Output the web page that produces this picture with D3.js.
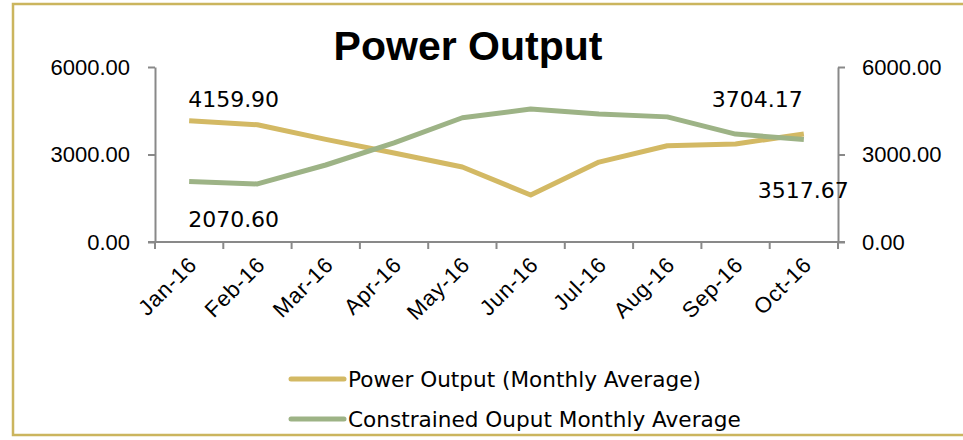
<!DOCTYPE html>
<html lang="en">
<head>
<meta charset="UTF-8">
<title>Power Output</title>
<script src="https://d3js.org/d3.v7.min.js"></script>
<style>
  body { margin: 0; background: #fff; }
  svg { display: block; font-family: "DejaVu Sans", sans-serif; }
  .axis text { font-size: 22px; fill: #000; }
  .axis.x text { letter-spacing: 0.8px; }
  .axis path, .axis line { stroke: #898989; stroke-width: 2; }
  .lbl { font-size: 22px; }
  .legend text { font-size: 21.6px; }
</style>
</head>
<body>
<svg id="chart" width="963" height="440"></svg>
<script>
const months = ["Jan-16","Feb-16","Mar-16","Apr-16","May-16","Jun-16","Jul-16","Aug-16","Sep-16","Oct-16"];
const powerOutput = [4159.90, 4020, 3520, 3050, 2570, 1610, 2740, 3300, 3360, 3704.17];
const constrained = [2070.60, 1990, 2640, 3400, 4260, 4560, 4390, 4290, 3700, 3517.67];
const yTicks = [0, 3000, 6000];
const seriesNames = ["Power Output (Monthly Average)", "Constrained Ouput Monthly Average"];
const colors = ["#d3b964", "#9db386"];

const svg = d3.select("#chart");

// outer border (right edge runs off the picture)
svg.append("rect")
  .attr("x", 13).attr("y", 4)
  .attr("width", 960).attr("height", 431)
  .attr("fill", "none")
  .attr("stroke", "#cbb55e")
  .attr("stroke-width", 2.5);

svg.append("text")
  .attr("x", 468).attr("y", 60)
  .attr("text-anchor", "middle")
  .style("font-family", "'Liberation Sans', Arial, sans-serif")
  .style("font-weight", "bold")
  .style("font-size", "41px")
  .text("Power Output");

const x = d3.scaleBand().domain(months).range([155, 838]);
const y = d3.scaleLinear().domain([0, 6000]).range([242, 67]);

// left axis
svg.append("g")
  .attr("class", "axis")
  .attr("transform", "translate(155,0)")
  .call(d3.axisLeft(y).tickValues(yTicks).tickFormat(d3.format(".2f")).tickSize(7).tickPadding(18).tickSizeOuter(0));

// right axis
svg.append("g")
  .attr("class", "axis")
  .attr("transform", "translate(838,0)")
  .call(d3.axisRight(y).tickValues(yTicks).tickFormat(d3.format(".2f")).tickSize(7).tickPadding(17).tickSizeOuter(0));

// bottom axis (labels)
const xg = svg.append("g")
  .attr("class", "axis x")
  .attr("transform", "translate(0,242)")
  .call(d3.axisBottom(x).tickSize(0).tickPadding(0).tickSizeOuter(0));
xg.select(".domain").attr("d", "M148,0H845");
xg.selectAll(".tick text")
  .attr("text-anchor", "end")
  .attr("dy", 0)
  .attr("transform", "translate(9,24) rotate(-45)");

// tick marks at band edges
const edges = months.map(m => x(m)).concat([x.range()[1]]);
xg.selectAll(".edge")
  .data(edges)
  .join("line")
  .attr("class", "edge")
  .attr("x1", d => d).attr("x2", d => d)
  .attr("y1", 0).attr("y2", 7);

// lines
const line = d3.line()
  .x((d, i) => x(months[i]) + x.bandwidth() / 2)
  .y(d => y(d));

[powerOutput, constrained].forEach((s, k) => {
  svg.append("path")
    .datum(s)
    .attr("fill", "none")
    .attr("stroke", colors[k])
    .attr("stroke-width", 5)
    .attr("stroke-linejoin", "round")
    .attr("d", line);
});

// data labels
const cx = i => x(months[i]) + x.bandwidth() / 2;
const labels = [
  {v: powerOutput[0], i: 0, dx: -1, dy: -14, anchor: "start"},
  {v: constrained[0], i: 0, dx: -1, dy: 45, anchor: "start"},
  {v: powerOutput[9], i: 9, dx: -1, dy: -27, anchor: "end"},
  {v: constrained[9], i: 9, dx: -46, dy: 59, anchor: "start"}
];
svg.selectAll(".lbl")
  .data(labels)
  .join("text")
  .attr("class", "lbl")
  .attr("x", d => cx(d.i) + d.dx)
  .attr("y", d => y(d.v) + d.dy)
  .attr("text-anchor", d => d.anchor)
  .text(d => d3.format(".2f")(d.v));

// legend
const lg = svg.append("g").attr("class", "legend");
seriesNames.forEach((n, k) => {
  const ly = 379 + k * 40;
  lg.append("line")
    .attr("x1", 291).attr("x2", 344)
    .attr("y1", ly).attr("y2", ly)
    .attr("stroke", colors[k])
    .attr("stroke-width", 5)
    .attr("stroke-linecap", "round");
  lg.append("text")
    .attr("x", 348).attr("y", ly + 8)
    .text(n);
});
</script>
</body>
</html>
